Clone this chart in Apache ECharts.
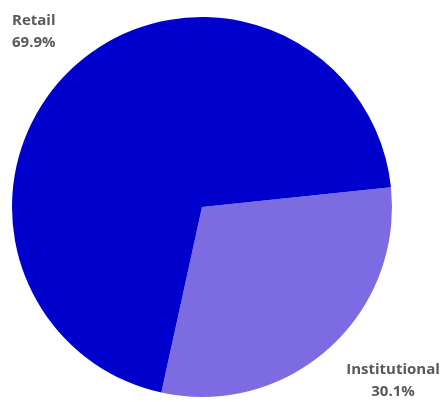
<!DOCTYPE html>
<html>
<head>
<meta charset="utf-8">
<script src="https://cdn.jsdelivr.net/npm/echarts@6/dist/echarts.min.js"></script>
<style>html,body{margin:0;padding:0;background:#fff}#c{width:444px;height:402px}</style>
</head>
<body>
<div id="c"></div>
<script>
const categories = ['Institutional', 'Retail'];
const shares = [30.1, 69.9];
const colors = ['#7d6be2', '#0000cc'];

const chart = echarts.init(document.getElementById('c'), null, {renderer: 'canvas'});
chart.setOption({
  animation: false,
  series: [{
    type: 'pie',
    center: [202, 207],
    radius: [0, 190],
    startAngle: 6,
    clockwise: true,
    data: categories.map((n, i) => ({name: n, value: shares[i], itemStyle: {color: colors[i]}})),
    label: {
      show: true,
      position: 'outside',
      formatter: p => p.name + '\n' + p.value.toFixed(1) + '%',
      fontFamily: 'Open Sans',
      fontWeight: 'bold',
      fontSize: 15,
      lineHeight: 22,
      color: '#595959',
      overflow: 'none',
      width: 200
    },
    labelLine: {show: false},
    labelLayout: function (params) {
      if (params.dataIndex === 1) {
        return {x: 12, y: 32, align: 'left', verticalAlign: 'middle'};
      }
      return {x: 393, y: 381, align: 'center', verticalAlign: 'middle'};
    },
    emphasis: {disabled: true}
  }]
});
</script>
</body>
</html>
